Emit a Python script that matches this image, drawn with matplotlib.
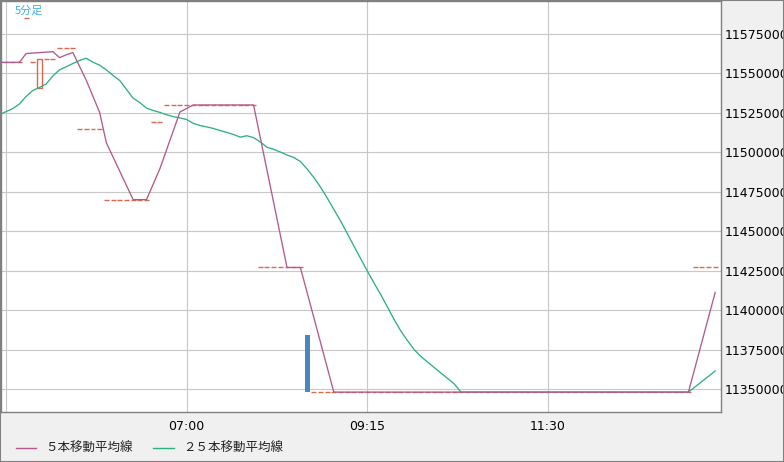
import matplotlib
matplotlib.use("Agg")
import matplotlib.pyplot as plt
from matplotlib.lines import Line2D
from matplotlib.patches import Rectangle

# 5-minute bars, index 0 = 04:45, one bar every 5 minutes
bar_idx = list(range(-1, 107))
bar_close = [
    11557000, 11557000, 11557000, 11557000, 11585000, 11557000, 11559000, 11559000,
    11559000, 11566000, 11566000, 11566000, 11515000, 11515000, 11515000, 11515000,
    11470000, 11470000, 11470000, 11470000, 11470000, 11470000, 11470000,
    11519000, 11519000,
    11530000, 11530000, 11530000, 11530000, 11530000, 11530000, 11530000,
    11530000, 11530000, 11530000, 11530000, 11530000, 11530000, 11530000,
    11427000, 11427000, 11427000, 11427000, 11427000, 11427000, 11427000,
    11348000, 11348000, 11348000, 11348000, 11348000, 11348000, 11348000, 11348000,
    11348000, 11348000, 11348000, 11348000, 11348000, 11348000, 11348000, 11348000,
    11348000, 11348000, 11348000, 11348000, 11348000, 11348000, 11348000, 11348000,
    11348000, 11348000, 11348000, 11348000, 11348000, 11348000, 11348000, 11348000,
    11348000, 11348000, 11348000, 11348000, 11348000, 11348000, 11348000, 11348000,
    11348000, 11348000, 11348000, 11348000, 11348000, 11348000, 11348000, 11348000,
    11348000, 11348000, 11348000, 11348000, 11348000, 11348000, 11348000, 11348000,
    11348000, 11348000,
    11427000, 11427000, 11427000, 11427000,
]
# bars whose open differs from close
body_idx = [5, 45]
body_open = [11541000, 11384000]

# 5-bar moving average (vertices)
ma5_x = [-1, 2, 3, 7, 8, 9, 10, 11, 12, 13, 14, 15, 16, 17, 18, 19, 21, 22, 23,
         24, 25, 26, 27, 28, 37, 38, 39, 40, 41, 42, 44, 45, 46, 47, 48, 49,
         102, 103, 104, 105, 106]
ma5_y = [11557000, 11557000, 11562600, 11563800, 11560000, 11561800, 11563200,
         11554400, 11545600, 11535400, 11525200, 11506000, 11497000, 11488000,
         11479000, 11470000, 11470000, 11479800, 11489600, 11501600, 11513600,
         11525600, 11527800, 11530000, 11530000, 11509400, 11488800, 11468200,
         11447600, 11427000, 11427000, 11411200, 11395400, 11379600, 11363800,
         11348000, 11348000, 11363800, 11379600, 11395400, 11411200]

# 25-bar moving average (vertices)
ma25_x = [-1, 1, 2, 3, 4, 5, 6, 7, 8, 9, 10, 11, 12, 13, 14, 15, 16, 17, 18, 19,
          20, 21, 22, 23, 24, 25, 26, 27, 28, 29, 30, 31, 32, 33, 34, 35, 36, 37,
          38, 39, 40, 41, 42, 43, 44, 45, 46, 47, 48, 49, 50, 51, 52, 53, 54, 55,
          56, 57, 58, 59, 60, 61, 62, 63, 64, 65, 66, 67, 68, 102, 106]
ma25_y = [11523800, 11527700, 11530600, 11535400, 11539200, 11541100, 11543300,
          11548400, 11552300, 11554200, 11556300, 11558200, 11559600, 11557100,
          11555200, 11552200, 11548700, 11545500, 11539900, 11534300, 11531500,
          11528000, 11526500, 11525300, 11523800, 11522600, 11521800, 11520800,
          11518300, 11517000, 11516100, 11515100, 11513800, 11512600, 11511300,
          11509600, 11510500, 11509300, 11506600, 11503200, 11501900, 11500200,
          11498300, 11496700, 11494200, 11489400, 11484100, 11478000, 11471100,
          11463800, 11456500, 11448600, 11440600, 11432700, 11424800, 11417200,
          11409900, 11402000, 11394100, 11386800, 11380700, 11375000, 11370600,
          11367100, 11363600, 11360100, 11356700, 11353200, 11348000, 11348000,
          11361400]

y_ticks = list(range(11350000, 11575001, 25000))
x_ticks = [0, 27, 54, 81]
x_labels = ["", "07:00", "09:15", "11:30"]

MA5_COLOR = "#b25a8c"
MA25_COLOR = "#2fb07f"
CANDLE_COLOR = "#d8694c"
DOWN_COLOR = "#4a86bc"
JP_FONT = ["Noto Sans CJK JP", "DejaVu Sans"]

fig = plt.figure(figsize=(7.84, 4.62), dpi=100, facecolor="#f0f0f0")
ax = fig.add_axes([1 / 784, 50 / 462, 720 / 784, 411 / 462])
ax.set_facecolor("white")

# doji bars as short horizontal strokes
doji_x = [i for i in bar_idx if i not in body_idx]
doji_y = [c for i, c in zip(bar_idx, bar_close) if i not in body_idx]
ax.hlines(doji_y, [i - 0.37 for i in doji_x], [i + 0.37 for i in doji_x],
          colors=CANDLE_COLOR, lw=1.0, zorder=2)

for i, o in zip(body_idx, body_open):
    c = bar_close[bar_idx.index(i)]
    if c > o:
        ax.add_patch(Rectangle((i - 0.33, o), 0.66, c - o, fill=False,
                               edgecolor=CANDLE_COLOR, lw=1.0, zorder=2))
    else:
        ax.add_patch(Rectangle((i - 0.37, c), 0.74, o - c, facecolor=DOWN_COLOR,
                               edgecolor="none", zorder=2))

ax.plot(ma25_x, ma25_y, color=MA25_COLOR, lw=0.95, zorder=3)
ax.plot(ma5_x, ma5_y, color=MA5_COLOR, lw=0.95, zorder=4)

ax.set_xlim(-0.75, 106.87)
ax.set_ylim(11335400, 11595900)

ax.set_yticks(y_ticks)
ax.set_yticklabels([str(v) for v in y_ticks])
ax.yaxis.tick_right()
ax.set_xticks(x_ticks)
ax.set_xticklabels(x_labels)
ax.tick_params(axis="y", length=0, pad=3, labelsize=9, labelcolor="black")
ax.tick_params(axis="x", length=0, pad=6, labelsize=9, labelcolor="black")
ax.grid(True, color="#c8c8c8", lw=0.8)
ax.set_axisbelow(True)
for s in ax.spines.values():
    s.set_color("#808080")
    s.set_linewidth(1.0)

fig.text(15 / 784, 1 - 10.5 / 462, "5分足", color="#3aaeea", fontsize=8,
         family=JP_FONT, ha="left", va="center")

# legend
ly = (462 - 448) / 462
fig.add_artist(Line2D([16 / 784, 36 / 784], [ly, ly], color=MA5_COLOR, lw=1.0))
fig.text(45 / 784, ly, "５本移動平均線", fontsize=9, family=JP_FONT,
         color="#222222", ha="left", va="center")
fig.add_artist(Line2D([153 / 784, 174 / 784], [ly, ly], color=MA25_COLOR, lw=1.0))
fig.text(183 / 784, ly, "２５本移動平均線", fontsize=9, family=JP_FONT,
         color="#222222", ha="left", va="center")

fig.patches.append(Rectangle((0, 0), 1, 1, transform=fig.transFigure, fill=False,
                             edgecolor="#808080", lw=1.5))

fig.savefig("out.png", dpi=100, facecolor=fig.get_facecolor())
